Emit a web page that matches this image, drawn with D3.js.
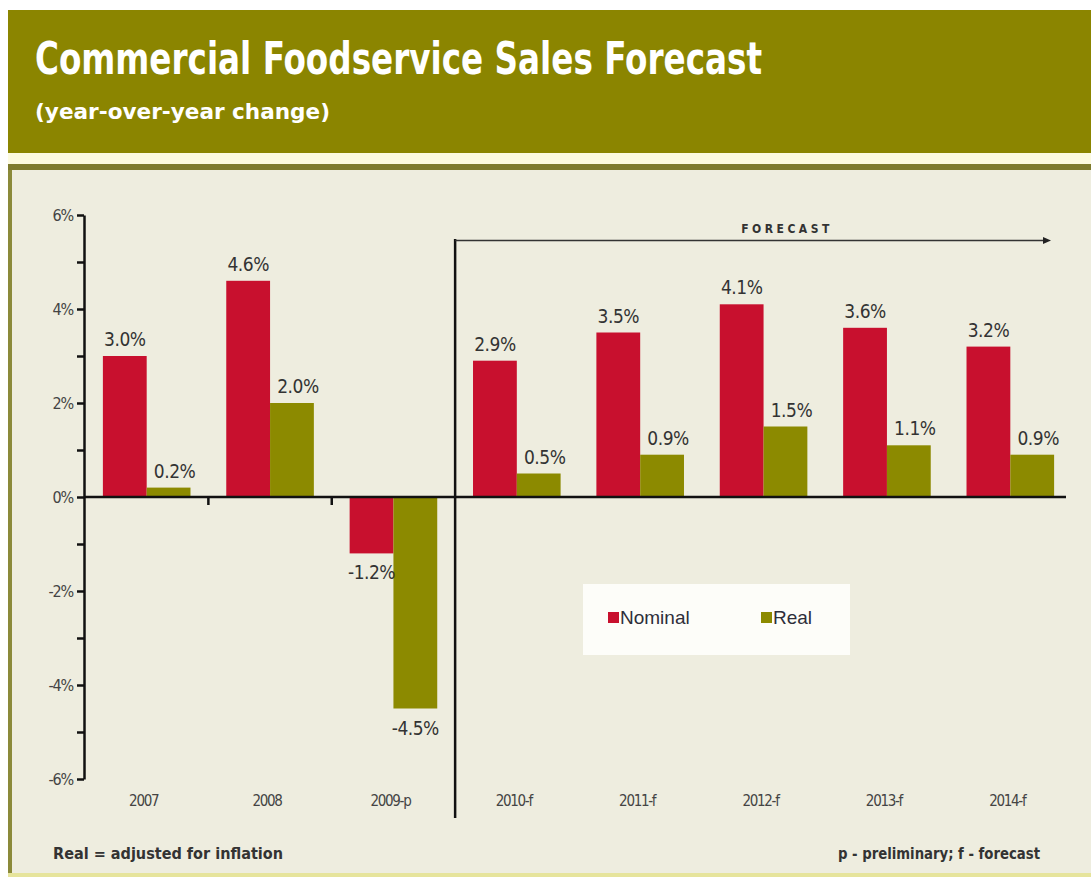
<!DOCTYPE html>
<html>
<head>
<meta charset="utf-8">
<script src="https://cdn.jsdelivr.net/npm/d3@7"></script>
<style>
  html, body { margin: 0; padding: 0; background: #ffffff; }
  svg { display: block; }
</style>
</head>
<body>
<svg id="chart" width="1091" height="879"></svg>
<script>
// Year-over-year change in commercial foodservice sales (%)
const categories = ["2007", "2008", "2009-p", "2010-f", "2011-f", "2012-f", "2013-f", "2014-f"];
const seriesNames = ["Nominal", "Real"];
const nominalValues = [3.0, 4.6, -1.2, 2.9, 3.5, 4.1, 3.6, 3.2];
const realValues = [0.2, 2.0, -4.5, 0.5, 0.9, 1.5, 1.1, 0.9];
const yTickValues = [-6, -5, -4, -3, -2, -1, 0, 1, 2, 3, 4, 5, 6];
const forecastStart = "2010-f";

const colors = { Nominal: "#c8102e", Real: "#8c8a00" };
const condensed = "'DejaVu Sans Condensed', 'DejaVu Sans', sans-serif";

const svg = d3.select("#chart");

// Header band
svg.append("rect").attr("x", 8).attr("y", 10).attr("width", 1083).attr("height", 143).attr("fill", "#8b8500");
svg.append("rect").attr("x", 8).attr("y", 153).attr("width", 1083).attr("height", 11).attr("fill", "#fcfadf");
svg.append("rect").attr("x", 8).attr("y", 164).attr("width", 1083).attr("height", 6).attr("fill", "#7e7b2e");
// Chart panel
svg.append("rect").attr("x", 8).attr("y", 170).attr("width", 1083).attr("height", 703).attr("fill", "#eeeddf");
svg.append("rect").attr("x", 8).attr("y", 170).attr("width", 4).attr("height", 703).attr("fill", "#8b8a3a");
svg.append("rect").attr("x", 8).attr("y", 873).attr("width", 1083).attr("height", 4).attr("fill", "#e6e49c");

svg.append("text")
  .attr("x", 35).attr("y", 74)
  .attr("textLength", 727).attr("lengthAdjust", "spacingAndGlyphs")
  .attr("font-family", condensed).attr("font-stretch", "condensed")
  .attr("font-weight", "bold").attr("font-size", 44)
  .attr("fill", "#ffffff")
  .text("Commercial Foodservice Sales Forecast");

svg.append("text")
  .attr("x", 35).attr("y", 119)
  .attr("textLength", 295).attr("lengthAdjust", "spacingAndGlyphs")
  .attr("font-family", condensed).attr("font-stretch", "condensed")
  .attr("font-weight", "bold").attr("font-size", 22)
  .attr("fill", "#ffffff")
  .text("(year-over-year change)");

// Scales
const x0 = d3.scaleBand().domain(categories).range([85, 1072]).paddingInner(0.29).paddingOuter(0.145);
const x1 = d3.scaleBand().domain(seriesNames).range([0, x0.bandwidth()]);
const y = d3.scaleLinear().domain([-6, 6]).range([779, 215]);

const rows = categories.map((c, i) => ({ cat: c, Nominal: nominalValues[i], Real: realValues[i] }));
const pct = v => d3.format(".1f")(v).replace("\u2212", "-") + "%";

// Y axis
const yAxis = svg.append("g")
  .attr("transform", "translate(84,0)")
  .call(d3.axisLeft(y).tickValues(yTickValues).tickSize(7).tickSizeOuter(0)
    .tickFormat(d => d % 2 === 0 ? d + "%" : ""));
yAxis.select(".domain").attr("stroke", "#111").attr("stroke-width", 2.5);
yAxis.selectAll(".tick line").attr("stroke", "#111").attr("stroke-width", 2.5);
yAxis.selectAll(".tick text")
  .attr("font-family", condensed).attr("font-stretch", "condensed")
  .attr("font-size", 16).attr("fill", "#444")
  .attr("x", -11).attr("letter-spacing", -1.2);

// Bars
const groups = svg.append("g").selectAll("g").data(rows).join("g")
  .attr("transform", d => `translate(${x0(d.cat)},0)`);

groups.selectAll("rect").data(d => seriesNames.map(k => ({ key: k, value: d[k] }))).join("rect")
  .attr("x", d => x1(d.key))
  .attr("width", x1.bandwidth())
  .attr("y", d => y(Math.max(0, d.value)))
  .attr("height", d => Math.abs(y(d.value) - y(0)))
  .attr("fill", d => colors[d.key]);

groups.selectAll("text").data(d => seriesNames.map(k => ({ key: k, value: d[k] }))).join("text")
  .attr("x", d => x1(d.key) + x1.bandwidth() / 2 + (d.key === "Real" && d.value > 0 ? 6 : 0))
  .attr("y", d => d.value >= 0 ? y(d.value) - 10 : y(d.value) + 26)
  .attr("text-anchor", "middle")
  .attr("font-family", condensed).attr("font-stretch", "condensed")
  .attr("font-size", 19).attr("letter-spacing", -0.5).attr("fill", "#333")
  .text(d => pct(d.value));

// Zero baseline and period ticks
svg.append("line")
  .attr("x1", 84).attr("x2", 1066).attr("y1", y(0)).attr("y2", y(0))
  .attr("stroke", "#111").attr("stroke-width", 2.5);

const boundaryCats = categories.slice(1, categories.indexOf(forecastStart));
svg.append("g").selectAll("line").data(boundaryCats).join("line")
  .attr("x1", d => x0(d) - x0.step() * x0.paddingInner() / 2)
  .attr("x2", d => x0(d) - x0.step() * x0.paddingInner() / 2)
  .attr("y1", y(0)).attr("y2", y(0) + 8)
  .attr("stroke", "#111").attr("stroke-width", 2.5);

// Category labels
svg.append("g").selectAll("text").data(categories).join("text")
  .attr("x", d => x0(d) + x0.bandwidth() / 2 - 3)
  .attr("y", 806)
  .attr("text-anchor", "middle")
  .attr("font-family", condensed).attr("font-stretch", "condensed")
  .attr("font-size", 15).attr("letter-spacing", -1.3)
  .attr("fill", "#444")
  .text(d => d);

// Forecast divider and arrow
const sepX = x0(forecastStart) - x0.step() * x0.paddingInner() / 2;
svg.append("line")
  .attr("x1", sepX).attr("x2", sepX).attr("y1", 239).attr("y2", 818)
  .attr("stroke", "#111").attr("stroke-width", 2.5);
svg.append("line")
  .attr("x1", sepX).attr("x2", 1044).attr("y1", 240.5).attr("y2", 240.5)
  .attr("stroke", "#333").attr("stroke-width", 1.5);
svg.append("path")
  .attr("d", "M1051,240.5 L1043,237 L1043,244 Z")
  .attr("fill", "#222");
svg.append("text")
  .attr("x", 787).attr("y", 233)
  .attr("text-anchor", "middle")
  .attr("font-family", condensed).attr("font-weight", "bold").attr("font-size", 12)
  .attr("letter-spacing", 3.5).attr("fill", "#333")
  .text("FORECAST");

// Legend
const legend = svg.append("g");
legend.append("rect").attr("x", 583).attr("y", 584).attr("width", 267).attr("height", 71)
  .attr("fill", "#fdfdf9");
const legendItems = [{ key: "Nominal", sx: 608, tx: 620 }, { key: "Real", sx: 761, tx: 773 }];
legendItems.forEach(it => {
  legend.append("rect").attr("x", it.sx).attr("y", 612).attr("width", 11).attr("height", 11)
    .attr("fill", colors[it.key]);
  legend.append("text").attr("x", it.tx).attr("y", 624)
    .attr("font-family", "'Liberation Sans', Arial, sans-serif").attr("font-size", 19)
    .attr("fill", "#2e2e3a")
    .text(it.key);
});

// Footnotes
svg.append("text")
  .attr("x", 53).attr("y", 859)
  .attr("textLength", 230).attr("lengthAdjust", "spacingAndGlyphs")
  .attr("font-family", condensed).attr("font-stretch", "condensed")
  .attr("font-weight", "bold").attr("font-size", 16)
  .attr("fill", "#333")
  .text("Real = adjusted for inflation");
svg.append("text")
  .attr("x", 838).attr("y", 859)
  .attr("textLength", 202).attr("lengthAdjust", "spacingAndGlyphs")
  .attr("font-family", condensed).attr("font-stretch", "condensed")
  .attr("font-weight", "bold").attr("font-size", 16)
  .attr("fill", "#333")
  .text("p - preliminary; f - forecast");
</script>
</body>
</html>
